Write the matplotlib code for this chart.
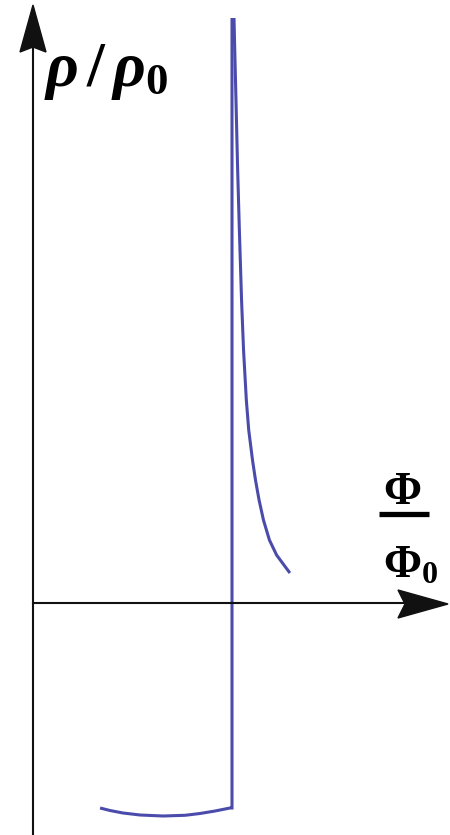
import matplotlib
matplotlib.use("Agg")
import matplotlib.pyplot as plt
from matplotlib.patches import Polygon

# ---- data ----
# lower branch (below zero), ending at the jump phi = 1
phi_low = [0.337, 0.387, 0.452, 0.538, 0.653, 0.764, 0.839, 0.915, 0.990, 1.000]
rho_low = [-2.05, -2.075, -2.10, -2.12, -2.13, -2.123, -2.105, -2.08, -2.05, -2.05]
# top of the vertical jump at phi = 1
rho_jump_top = 5.85
# upper branch (decaying curve right of the jump)
phi_high = [1.010, 1.015, 1.020, 1.028, 1.037, 1.048, 1.058, 1.072, 1.084,
            1.103, 1.118, 1.136, 1.158, 1.188, 1.224, 1.261, 1.291]
rho_high = [5.85, 5.43, 5.03, 4.36, 3.73, 3.03, 2.53, 2.03, 1.73,
            1.43, 1.23, 1.03, 0.83, 0.63, 0.48, 0.38, 0.30]

y_label = r"$\rho\,/\,\rho_0$"
x_num = r"$\Phi$"
x_den = r"$\Phi_0$"

plt.rcParams["mathtext.fontset"] = "custom"
plt.rcParams["mathtext.rm"] = "Liberation Serif:bold"
plt.rcParams["mathtext.it"] = "Liberation Serif:bold:italic"
plt.rcParams["mathtext.bf"] = "Liberation Serif:bold"

W, H = 450, 835
fig = plt.figure(figsize=(W / 100, H / 100), dpi=100)
ax = fig.add_axes([0, 0, 1, 1])
ax.axis("off")
ax.set_xlim(-33 / 199, (W - 33) / 199)
ax.set_ylim((603 - H) / 100, 603 / 100)

blue = "#4b4bab"
lw = 2.2

# lower branch + vertical jump
ax.plot(phi_low + [phi_low[-1]], rho_low + [rho_jump_top], color=blue, lw=lw,
        solid_joinstyle="miter", solid_capstyle="butt")
# upper branch
ax.plot(phi_high, rho_high, color=blue, lw=lw, solid_capstyle="butt",
        solid_joinstyle="round")

# ---- axes with arrows (axes-fraction coords) ----
def fx(px):
    return px / W

def fy(py):
    return 1 - py / H

axc = "#111111"
# y axis
ax.plot([fx(33), fx(33)], [0, fy(40)], color=axc, lw=1.5, transform=ax.transAxes)
ax.add_patch(Polygon([(fx(33), fy(5)), (fx(33 - 13), fy(52)), (fx(33), fy(47)),
                      (fx(33 + 13), fy(52))], closed=True, color=axc,
                     transform=ax.transAxes))
# x axis
ax.plot([fx(33), fx(410)], [fy(603), fy(603)], color=axc, lw=1.5, transform=ax.transAxes)
ax.add_patch(Polygon([(fx(448), fy(604)), (fx(398), fy(590)), (fx(405), fy(604)),
                      (fx(398), fy(618))], closed=True, color=axc,
                     transform=ax.transAxes))

# ---- labels ----
ax.text(fx(44), fy(86), y_label, fontsize=46, color="black", ha="left",
        va="baseline", transform=ax.transAxes)
ax.text(fx(402), fy(504), x_num, fontsize=33, color="black", ha="center",
        va="baseline", transform=ax.transAxes)
ax.plot([fx(379), fx(429)], [fy(514), fy(514)], color="black", lw=3.8,
        solid_capstyle="butt", transform=ax.transAxes)
ax.text(fx(383), fy(578), x_den, fontsize=33, color="black", ha="left",
        va="baseline", transform=ax.transAxes)

fig.savefig("out.png", dpi=100)
